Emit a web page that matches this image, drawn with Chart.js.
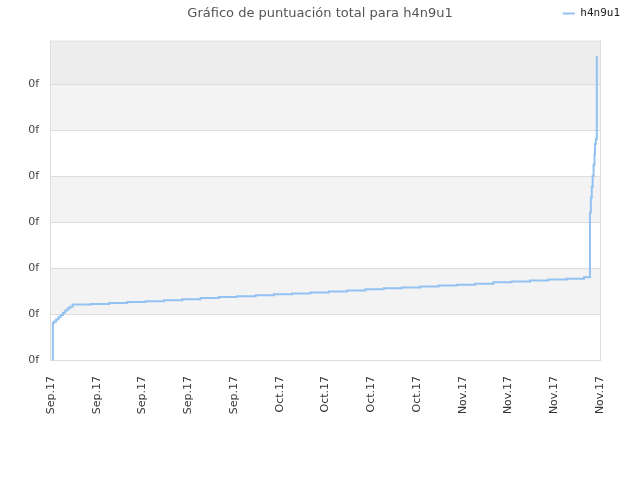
<!DOCTYPE html>
<html>
<head>
<meta charset="utf-8">
<script src="https://cdn.jsdelivr.net/npm/chart.js@4/dist/chart.umd.min.js"></script>
<style>
  html, body { margin: 0; padding: 0; background: #fff; }
  #wrap { width: 640px; height: 480px; }
</style>
</head>
<body>
<div id="wrap"><canvas id="scoreChart"></canvas></div>
<script>
// etiquetas del eje X (una por marca)
const xLabels = ['Sep.17', 'Sep.17', 'Sep.17', 'Sep.17', 'Sep.17',
                 'Oct.17', 'Oct.17', 'Oct.17', 'Oct.17',
                 'Nov.17', 'Nov.17', 'Nov.17', 'Nov.17'];
const yLabels = ['0f', '0f', '0f', '0f', '0f', '0f', '0f'];

const seriesName = 'h4n9u1';
// posición en el eje X (en intervalos de etiqueta) y puntuación
const pointX = [0.04, 0.04, 0.06, 0.11, 0.16, 0.21, 0.26, 0.31, 0.36, 0.41, 0.47,
                0.87, 1.27, 1.67, 2.07, 2.47, 2.87, 3.27, 3.67, 4.07, 4.47,
                4.87, 5.27, 5.67, 6.07, 6.47, 6.87, 7.27, 7.67, 8.07, 8.47,
                8.87, 9.27, 9.67, 10.07, 10.47, 10.87, 11.27, 11.65,
                11.78, 11.80, 11.82, 11.84, 11.86, 11.88, 11.89, 11.91, 11.93];
const pointY = [0, 0.80, 0.83, 0.88, 0.93, 0.98, 1.03, 1.08, 1.12, 1.16, 1.21,
                1.22, 1.24, 1.26, 1.28, 1.30, 1.32, 1.35, 1.37, 1.39, 1.41,
                1.43, 1.45, 1.47, 1.49, 1.51, 1.54, 1.56, 1.58, 1.60, 1.62,
                1.64, 1.66, 1.69, 1.71, 1.73, 1.75, 1.77, 1.80,
                3.21, 3.53, 3.77, 4.01, 4.25, 4.48, 4.70, 4.81, 6.61];
const yMax = 6.93;

/**
 * Pinta las bandas alternas del fondo y el marco del área del gráfico.
 */
const bandsPlugin = {
    id: 'bands',
    afterLayout(chart) {
        // la leyenda va en la misma línea que el título
        const l = chart.legend;
        l.top = 6;
        l.bottom = l.top + 24;
        l.left -= 18;
        l.right -= 18;
    },
    beforeDraw(chart) {
        const { ctx, chartArea: a, scales: { y } } = chart;
        const ticks = y.ticks;
        ctx.save();
        ticks.forEach((t, i) => {
            const yBottom = y.getPixelForValue(t.value);
            const yTop = i < ticks.length - 1 ? y.getPixelForValue(ticks[i + 1].value) : a.top;
            let color = i % 2 === 0 ? '#ffffff' : '#f3f3f3';
            if (i === ticks.length - 1) color = '#ededed';
            ctx.fillStyle = color;
            ctx.fillRect(a.left, yTop, a.right - a.left, yBottom - yTop);
        });
        ctx.restore();
    },
    beforeDatasetsDraw(chart) {
        const { ctx, chartArea: a } = chart;
        ctx.save();
        ctx.strokeStyle = '#dddddd';
        ctx.lineWidth = 1;
        ctx.strokeRect(a.left - 0.5, a.top - 0.5, a.right - a.left + 1, a.bottom - a.top + 1);
        ctx.restore();
    }
};

new Chart(document.getElementById('scoreChart'), {
    type: 'line',
    data: {
        datasets: [{
            label: seriesName,
            data: pointX.map((x, i) => ({ x: x, y: pointY[i] })),
            borderColor: '#92c1f2',
            backgroundColor: '#92c1f2',
            borderWidth: 2,
            pointRadius: 0,
            stepped: true,
            fill: false
        }]
    },
    options: {
        responsive: true,
        maintainAspectRatio: false,
        animation: false,
        layout: { padding: 0 },
        plugins: {
            title: {
                display: true,
                text: 'Gráfico de puntuación total para h4n9u1',
                color: '#555555',
                font: { family: 'DejaVu Sans', size: 13, weight: 'normal' },
                padding: { top: 6, bottom: 0 }
            },
            legend: {
                position: 'top',
                align: 'end',
                maxHeight: 20,
                labels: {
                    usePointStyle: true,
                    pointStyle: 'line',
                    pointStyleWidth: 12,
                    boxHeight: 11,
                    padding: 2,
                    color: '#222222',
                    font: { family: 'DejaVu Sans Mono', size: 11 }
                }
            },
            tooltip: { enabled: false }
        },
        scales: {
            x: {
                type: 'linear',
                min: 0,
                max: 12,
                grid: { display: false },
                border: { display: false },
                ticks: {
                    stepSize: 1,
                    autoSkip: false,
                    maxRotation: 90,
                    minRotation: 90,
                    padding: 8,
                    color: '#333333',
                    font: { family: 'DejaVu Sans', size: 11 },
                    callback: (v) => xLabels[v]
                },
                afterFit: (s) => { s.height = 120; }
            },
            y: {
                min: 0,
                max: yMax,
                grid: { color: '#dddddd', drawTicks: false },
                border: { display: false },
                ticks: {
                    stepSize: 1,
                    includeBounds: false,
                    padding: 12,
                    color: '#444444',
                    font: { family: 'DejaVu Sans', size: 11 },
                    callback: (v, i) => yLabels[i]
                },
                afterFit: (s) => { s.width = 51; }
            },
            // eje vacío a la derecha: solo reserva el margen
            yRight: {
                position: 'right',
                grid: { display: false },
                border: { display: false },
                ticks: { display: false },
                afterFit: (s) => { s.width = 40; }
            }
        }
    },
    plugins: [bandsPlugin]
});
</script>
</body>
</html>
